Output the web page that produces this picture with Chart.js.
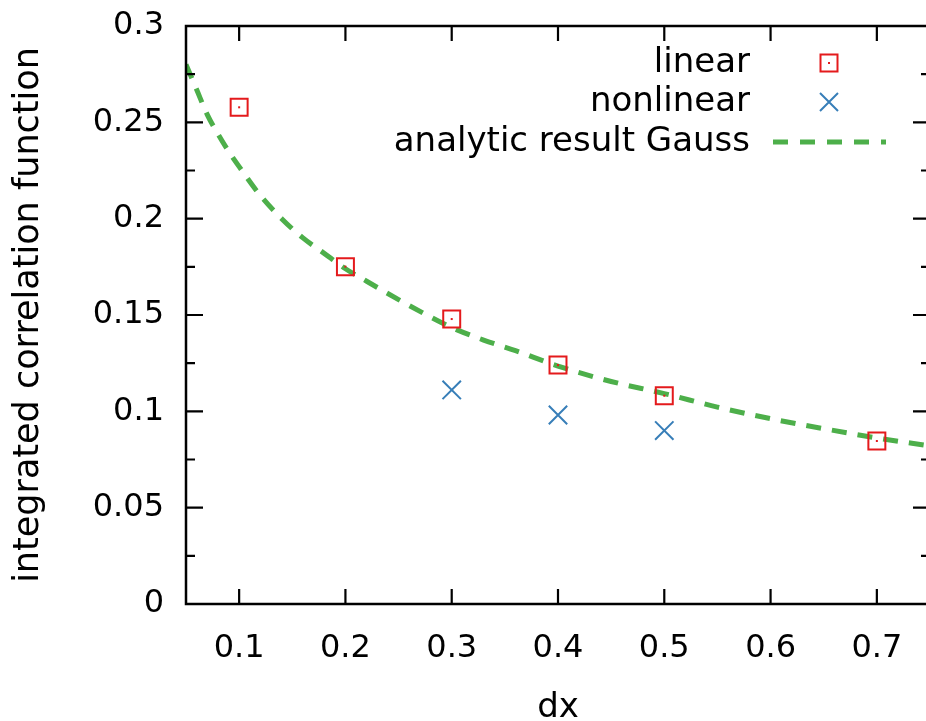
<!DOCTYPE html>
<html><head><meta charset="utf-8">
<script src="https://cdn.jsdelivr.net/npm/chart.js@4.4.1/dist/chart.umd.min.js"></script>
<style>
html,body{margin:0;padding:0;overflow:hidden;background:#fff;}
canvas{display:block;}
</style></head>
<body><canvas id="c" width="940" height="721" style="width:940px;height:721px"></canvas>
<script>
// ---- data ----
const linearX = [0.1, 0.2, 0.3, 0.4, 0.5, 0.7];
const linearY = [0.2578, 0.1751, 0.1479, 0.1240, 0.1081, 0.0846];
const nonlinearX = [0.3, 0.4, 0.5];
const nonlinearY = [0.1111, 0.0981, 0.0900];
const gaussX = [0.05,0.06,0.07,0.08,0.09,0.10,0.12,0.14,0.16,0.18,0.20,0.22,0.25,0.28,0.30,0.33,0.36,0.40,0.45,0.50,0.55,0.60,0.65,0.70,0.75];
const gaussY = [0.280,0.267,0.254,0.244,0.235,0.227,0.212,0.200,0.190,0.182,0.174,0.1675,0.158,0.149,0.1435,0.137,0.1315,0.1235,0.1155,0.1092,0.1022,0.0962,0.0910,0.0862,0.0820];
const xTicks = [0.1, 0.2, 0.3, 0.4, 0.5, 0.6, 0.7];
const yTicks = [0, 0.05, 0.1, 0.15, 0.2, 0.25, 0.3];
const yMinorTicks = [0.025, 0.075, 0.125, 0.175, 0.225, 0.275];
const labels = ['linear', 'nonlinear', 'analytic result Gauss'];

const RED = '#e41a1c', BLUE = '#377eb8', GREEN = '#4daf4a';
const FONT = 'DejaVu Sans';

const zip = (xs, ys) => xs.map((x, i) => ({x, y: ys[i]}));
const noPad = s => { s.paddingTop = 0; s.paddingBottom = 0; s.paddingLeft = 0; s.paddingRight = 0; };

const framePlugin = {
  id: 'frame',
  afterDraw(chart) {
    const {ctx, chartArea: a, scales: {x, y}} = chart;
    ctx.save();
    ctx.strokeStyle = '#000';
    ctx.lineWidth = 2.5;
    ctx.beginPath();
    ctx.rect(a.left, a.top, a.right - a.left, a.bottom - a.top);
    ctx.stroke();
    ctx.lineWidth = 2.2;
    ctx.beginPath();
    xTicks.forEach(v => {
      const px = x.getPixelForValue(v);
      ctx.moveTo(px, a.bottom); ctx.lineTo(px, a.bottom - 15);
      ctx.moveTo(px, a.top); ctx.lineTo(px, a.top + 15);
    });
    yTicks.forEach(v => {
      const py = y.getPixelForValue(v);
      ctx.moveTo(a.left, py); ctx.lineTo(a.left + 17, py);
      ctx.moveTo(a.right, py); ctx.lineTo(a.right - 17, py);
    });
    yMinorTicks.forEach(v => {
      const py = y.getPixelForValue(v);
      ctx.moveTo(a.left, py); ctx.lineTo(a.left + 9, py);
      ctx.moveTo(a.right, py); ctx.lineTo(a.right - 9, py);
    });
    ctx.stroke();

    // center dots of the boxes
    ctx.fillStyle = RED;
    chart.getDatasetMeta(0).data.forEach(p => { ctx.fillRect(p.x - 1, p.y - 1, 2, 2); });

    // legend
    const ds = chart.data.datasets;
    const rows = [63, 102, 142];
    ctx.font = '34px "' + FONT + '"';
    ctx.fillStyle = '#000';
    ctx.textAlign = 'right';
    ctx.textBaseline = 'middle';
    rows.forEach((ry, i) => ctx.fillText(ds[i].label, 750, ry));
    // symbol: box
    ctx.strokeStyle = RED; ctx.lineWidth = 2;
    ctx.strokeRect(829 - 8.5, rows[0] - 8.5, 17, 17);
    ctx.fillStyle = RED; ctx.fillRect(828, rows[0] - 1, 2, 2);
    // symbol: cross
    ctx.strokeStyle = BLUE; ctx.lineWidth = 2;
    ctx.beginPath();
    ctx.moveTo(820, rows[1] - 9); ctx.lineTo(838, rows[1] + 9);
    ctx.moveTo(838, rows[1] - 9); ctx.lineTo(820, rows[1] + 9);
    ctx.stroke();
    // symbol: dashed line
    ctx.strokeStyle = GREEN; ctx.lineWidth = 5;
    ctx.setLineDash([15, 12]);
    ctx.beginPath(); ctx.moveTo(773, rows[2]); ctx.lineTo(886, rows[2]); ctx.stroke();
    ctx.restore();
  }
};

new Chart(document.getElementById('c'), {
  type: 'scatter',
  data: {
    datasets: [
      { label: labels[0], data: zip(linearX, linearY), pointStyle: 'rect', pointRadius: 12, pointHoverRadius: 12,
        borderColor: RED, backgroundColor: 'rgba(0,0,0,0)', pointBorderWidth: 2, showLine: false },
      { label: labels[1], data: zip(nonlinearX, nonlinearY), pointStyle: 'crossRot', pointRadius: 13, pointHoverRadius: 13,
        borderColor: BLUE, backgroundColor: BLUE, pointBorderWidth: 2, showLine: false },
      { label: labels[2], data: zip(gaussX, gaussY), showLine: true, pointRadius: 0, borderColor: GREEN,
        borderWidth: 5, borderDash: [15, 11], cubicInterpolationMode: 'monotone', fill: false }
    ]
  },
  options: {
    responsive: false, maintainAspectRatio: false, animation: false, devicePixelRatio: 1,
    layout: { autoPadding: false, padding: { top: 26, right: 10, bottom: 0, left: 0 } },
    plugins: { legend: { display: false }, tooltip: { enabled: false } },
    scales: {
      x: {
        type: 'linear', min: 0.05, max: 0.75,
        grid: { display: false, drawTicks: false, tickLength: 0 },
        border: { display: false },
        afterBuildTicks: s => { s.ticks = xTicks.map(v => ({value: v})); },
        afterFit: s => { s.height = 117; noPad(s); },
        ticks: { color: '#000', font: { family: FONT, size: 32 }, padding: 25, maxRotation: 0,
                 callback: v => String(v) },
        title: { display: true, text: 'dx', color: '#000', font: { family: FONT, size: 34 }, padding: { top: 0, bottom: -8 } }
      },
      y: {
        type: 'linear', min: 0, max: 0.3,
        grid: { display: false, drawTicks: false, tickLength: 0 },
        border: { display: false },
        afterBuildTicks: s => { s.ticks = yTicks.map(v => ({value: v})); },
        afterFit: s => { s.width = 186; noPad(s); },
        ticks: { color: '#000', font: { family: FONT, size: 32 }, padding: 22, callback: v => String(v) },
        title: { display: true, text: 'integrated correlation function', color: '#000',
                 font: { family: FONT, size: 35 }, padding: { top: 8, bottom: 0 } }
      }
    }
  },
  plugins: [framePlugin]
});
</script></body></html>
